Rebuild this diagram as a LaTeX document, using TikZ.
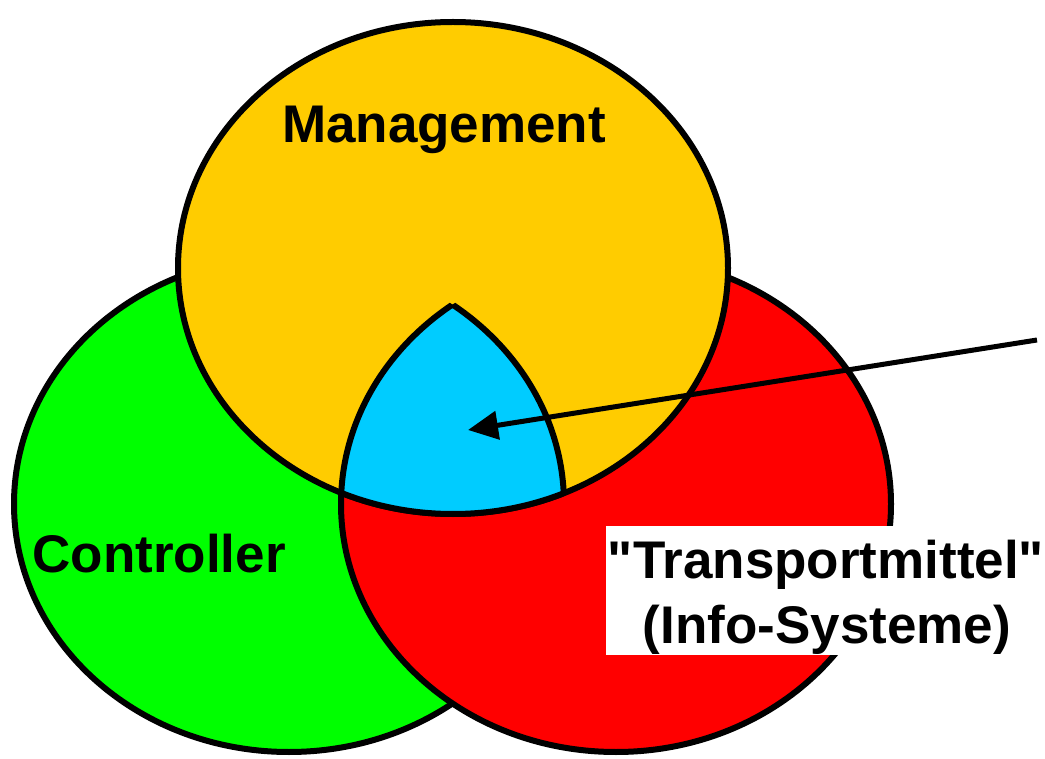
\documentclass[tikz,border=0pt]{standalone}
\usepackage{fontspec}
\setmainfont{Liberation Sans}[Ligatures=TeXOff]
\usetikzlibrary{arrows.meta}
\definecolor{mgmt}{HTML}{FFCC00}
\definecolor{ctrl}{HTML}{00FF00}
\definecolor{trans}{HTML}{FF0000}
\definecolor{core}{HTML}{00CCFF}
\tikzset{
  outline/.style={draw=black, line width=6pt, line join=round},
  label/.style={font=\fontsize{53}{65}\selectfont\bfseries, inner sep=0pt, anchor=base},
  pointer/.style={draw=black, line width=5pt, -{Triangle[length=30pt,width=28pt]}}
}
\newcommand{\ctrlshape}{(289,504) ellipse [x radius=275, y radius=248]}
\newcommand{\transshape}{(616,504) ellipse [x radius=275, y radius=248]}
\newcommand{\mgmtshape}{(453,268) ellipse [x radius=275, y radius=246]}
\begin{document}
\begin{tikzpicture}[x=1pt,y=-1pt]
\useasboundingbox (0,0) rectangle (1045,759);
% circles
\fill[ctrl] \ctrlshape;
\draw[outline] \ctrlshape;
\fill[trans] \transshape;
\draw[outline] \transshape;
\fill[mgmt] \mgmtshape;
\draw[outline] \mgmtshape;
% triple intersection
\begin{scope}
  \clip \ctrlshape;
  \clip \transshape;
  \fill[core] \mgmtshape;
  \draw[outline] \mgmtshape;
\end{scope}
\begin{scope}
  \clip \mgmtshape;
  \clip \ctrlshape;
  \draw[outline] \transshape;
\end{scope}
\begin{scope}
  \clip \mgmtshape;
  \clip \transshape;
  \draw[outline] \ctrlshape;
\end{scope}
% labels
\node[label] (management) at (444,143) {Management};
\node[label] (controller) at (159,572) {Controller};
\node[fill=white, inner sep=0pt, minimum width=439pt, minimum height=129pt, anchor=north west] (tmbox) at (606,526) {};
\node[label] (tmline1) at (826,578) {"Transportmittel"};
\node[label] (tmline2) at (827,643) {(Info-Systeme)};
% arrow
\coordinate (arrowstart) at (1037,340);
\coordinate (arrowtip) at (468,430);
\draw[pointer] (arrowstart) -- (arrowtip);
\end{tikzpicture}
\end{document}
